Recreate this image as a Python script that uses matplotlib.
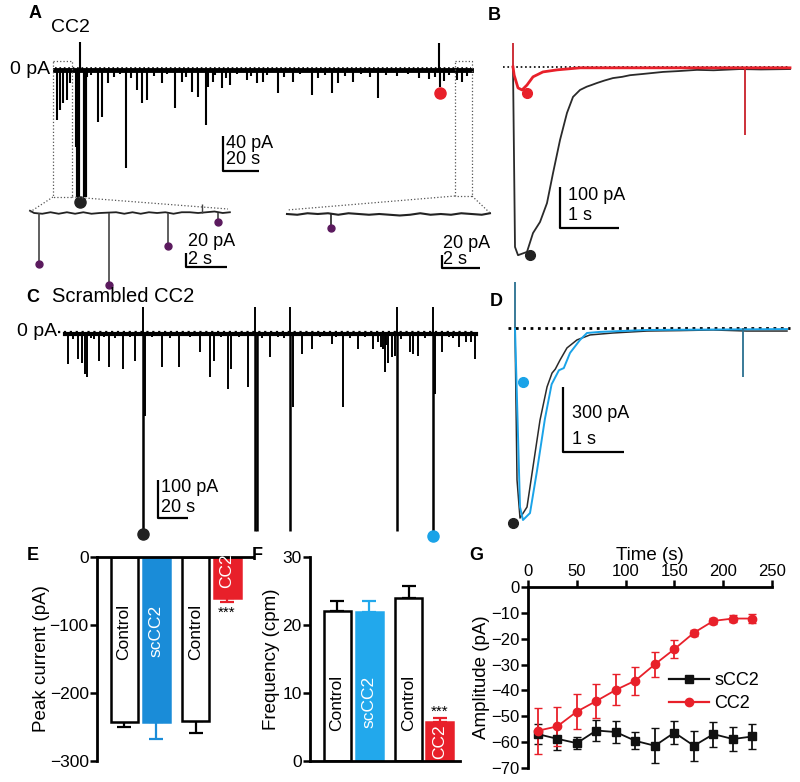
import matplotlib.pyplot as plt
from matplotlib.lines import Line2D

plt.rcParams['font.family'] = ['Liberation Sans', 'DejaVu Sans']
plt.rcParams['axes.unicode_minus'] = True

W, H = 800, 782
RED = '#e8202a'
BLUE_E = '#1a8cd8'
BLUE_F = '#22a8ec'
BLUE_TR = '#1aa3e8'
PURPLE = '#5b1a5e'

# ===========================
# DATA
# ===========================
# A - CC2 recording (s, pA)
a_evt_t = [1.1, 2.8, 4.4, 6.7, 8.3, 11.7, 23.9, 26.1, 29.4, 39.4, 45.6, 48.3, 51.1,
           59.4, 66.7, 70.6, 76.1, 79.4, 83.9, 85.0, 87.8, 92.8, 97.2, 106.7, 112.2,
           115.6, 123.9, 132.2, 142.8, 153.9, 157.2, 165.6, 179.4, 213.9, 223.3, 226.1]
a_evt_amp = [-57, -46, -38, -34, -15, -88, -59, -54, -15, -112, -23, -38, -34,
             -15, -43, -14, -25, -31, -63, -19, -14, -21, -17, -11, -15,
             -14, -26, -14, -29, -26, -15, -14, -32, -19, -11, -14]
a_small_t = [18, 20, 33, 36, 42, 55, 62, 73, 89, 95, 101, 109, 118, 127, 136, 146, 150,
             161, 170, 175, 184, 190, 196, 202, 208, 211, 216, 219, 229]
a_small_amp = [-8, -6, -8, -5, -9, -7, -5, -8, -6, -9, -5, -7, -6, -8, -5, -9, -6,
               -7, -5, -8, -6, -7, -5, -9, -10, -8, -12, -6, -7]
a_big_t = [12.8, 16.7]
a_big_amp = [-145, -145]
a_up_t = [13.9, 213.3]
a_up_amp = [32, 31]
a_dot_black = ([13.9], [-151])
a_dot_red = ([213.9], [-26])

# A insets (s, pA)
li_evt_t = [0.44, 3.85, 6.73, 9.17]
li_evt_amp = [-68, -96, -44, -12]
li_up_t = [8.4]
li_up_amp = [12]
li_base_t = [0, 0.2, 0.6, 1.0, 1.4, 1.8, 2.2, 2.6, 3.0, 3.4, 4.2, 4.6, 5.0, 5.4, 5.8, 6.2,
             6.6, 7.0, 7.4, 7.8, 8.2, 8.6, 9.0, 9.4, 9.75]
li_base_amp = [3, 0, -1, 1, -1, 1, -1, 1, -1, 0, 1, -1, 1, -1, 1, 0, 1, -1, 1, 1, 0, 1,
               2, 0, 1]
ri_evt_t = [2.15]
ri_evt_amp = [-19]
ri_base_t = [0, 0.5, 1.0, 1.5, 2.0, 2.5, 3.0, 3.5, 4.0, 4.5, 5.0, 5.5, 6.0, 6.5, 7.0, 7.5,
             8.0, 8.5, 9.0, 9.5, 9.9]
ri_base_amp = [0, -1, 1, 0, 1, -1, 1, 0, -1, 0, -1, -2, -1, 1, -1, 0, -1, 1, 0, -1, 1]

# B - averaged events, control (black) and CC2 (red) (s, pA)
b_ctrl_t = [0, 0.034, 0.085, 0.237, 0.339, 0.458, 0.576, 0.678, 0.797, 0.915, 1.017,
            1.136, 1.25, 1.33, 1.424, 1.55, 1.695, 1.85, 1.983, 2.2, 2.542, 2.8, 3.119,
            3.4, 3.847, 4.2, 4.695]
b_ctrl_amp = [0, -439, -459, -451, -405, -378, -332, -259, -178, -112, -73,
              -56, -48, -44, -39, -33, -27, -24, -20, -17, -12, -10, -7,
              -8, -5, -6, -5]
b_cc2_t = [0, 0.02, 0.085, 0.153, 0.237, 0.339, 0.508, 0.746, 1.136, 4.695]
b_cc2_amp = [0, -20, -51, -56, -44, -24, -12, -7, -2, -2]
b_cc2_spike_t = [0.0, 3.93]
b_cc2_spike_amp = [58, -166]
b_dot_ctrl = ([0.288], [-459])
b_dot_cc2 = ([0.237], [-63])

# C - Scrambled CC2 recording (s, pA)
c_evt_t = [2.2, 8.9, 11.1, 13.3, 14.9, 22.9, 29.6, 38.4, 46.7, 53.3, 64.9, 76.0, 90.0,
           96.7, 99.3, 108.4, 110.4, 122.2, 136.7, 152.2, 157.8, 164.4, 177.8, 185.6,
           195.6, 205.1, 213.3, 215.6, 217.8, 220.0, 230.0, 232.2, 235.6, 246.7, 251.1,
           262.9, 267.3, 273.3]
c_evt_amp = [-79, -66, -75, -105, -114, -70, -88, -92, -70, -215, -88, -88, -48,
             -114, -70, -145, -92, -140, -61, -193, -53, -39, -26, -193,
             -39, -39, -101, -75, -61, -57, -48, -53, -57, -158, -48,
             -35, -22, -66]
c_small_t = [5, 17, 19, 26, 33, 43, 58, 70, 83, 104, 116, 131, 142, 146, 170, 181, 190,
             200, 209, 211, 212, 214, 224, 240, 256, 259, 271]
c_small_amp = [-12, -10, -14, -8, -10, -9, -8, -10, -7, -9, -8, -10, -8, -11, -9, -8, -10,
               -9, -20, -35, -40, -30, -12, -10, -9, -11, -20]
c_big_t = [51.8, 126.7, 128.2, 150.0, 221.1, 245.1]
c_big_amp = [-526, -518, -518, -518, -518, -532]
c_up_t = [51.8, 127.0, 150.0, 221.1, 245.1]
c_up_amp = [71, 71, 71, 71, 71]
c_dot_black = ([51.8], [-526])
c_dot_blue = ([245.3], [-532])

# D - averaged events, control (black) and scCC2 (blue) (s, pA)
d_ctrl_t = [0, 0.033, 0.082, 0.197, 0.295, 0.41, 0.525, 0.607, 0.66, 0.738, 0.852,
            1.016, 1.23, 1.607, 2.164, 2.7, 3.246, 3.8, 4.459]
d_ctrl_amp = [0, -701, -877, -826, -641, -425, -272, -208, -190, -148, -92,
              -55, -32, -23, -14, -12, -9, -14, -14]
d_sc_t = [0, 0.082, 0.131, 0.246, 0.36, 0.49, 0.6, 0.72, 0.8, 0.902, 1.066, 1.18,
          1.393, 2.164, 4.459]
d_sc_amp = [0, -826, -886, -854, -660, -420, -260, -195, -185, -115, -55, -23,
            -18, -9, -5]
d_spike_t = [0.0, 3.74]
d_spike_amp = [212, -226]
d_dot_ctrl = ([-0.033], [-900])
d_dot_sc = ([0.131], [-249])

# E / F - bar summaries
bar_groups = ['Control', 'scCC2', 'Control', 'CC2']
e_vals = [-243, -243, -241, -61]
e_err = [7, 25, 18, 5]
f_vals = [22.0, 21.9, 24.0, 5.8]
f_err = [1.6, 1.6, 1.7, 0.5]

# G - amplitude over time
g_time = [10, 30, 50, 70, 90, 110, 130, 150, 170, 190, 210, 230]
g_scc2 = [-56.9, -58.7, -60.4, -55.5, -56.1, -59.5, -61.4, -56.3, -61.4, -56.9, -58.8, -57.8]
g_scc2_err = [4.0, 4.5, 2.3, 3.9, 4.4, 3.3, 6.7, 4.4, 5.8, 4.8, 4.5, 4.9]
g_cc2 = [-55.6, -53.9, -48.2, -44.1, -39.8, -36.2, -29.9, -24.0, -17.7, -13.1, -12.2, -12.2]
g_cc2_err = [8.8, 7.4, 6.9, 6.6, 6.0, 5.4, 4.8, 3.5, 1.2, 1.3, 1.3, 1.9]


# ===========================
# HELPERS
# ===========================
fig = plt.figure(figsize=(W / 100, H / 100), dpi=100)


def px_axes(l, t, r, b):
    return fig.add_axes([l / W, 1 - b / H, (r - l) / W, (b - t) / H])


def trace_axes(l, t, r, b, x0, y0, sx, sy):
    # box in pixels; (x0, y0) = pixel of t=0 / 0 pA; sx, sy = pixels per unit
    ax = px_axes(l, t, r, b)
    ax.set_xlim((l - x0) / sx, (r - x0) / sx)
    ax.set_ylim((y0 - b) / sy, (y0 - t) / sy)
    ax.axis('off')
    return ax


ov = fig.add_axes([0, 0, 1, 1], zorder=10)
ov.set_xlim(0, W)
ov.set_ylim(H, 0)
ov.axis('off')
ov.patch.set_alpha(0)


def scalebar(x, ytop, ybot, xright, lab1, lab2, y1, y2, dx=3):
    ov.plot([x, x, xright], [ytop, ybot, ybot], color='k', lw=1.6, solid_capstyle='butt')
    ov.text(x + dx, y1, lab1, fontsize=13, va='center', ha='left')
    ov.text(x + dx, y2, lab2, fontsize=13, va='center', ha='left')


def letter(x, y, s):
    ov.text(x, y, s, fontsize=13, fontweight='bold', va='center', ha='center')


# ===========================
# A
# ===========================
axA = trace_axes(50, 35, 480, 210, 55, 70, 1.8, 0.875)
axA.plot([0, 231], [2, 2], ls=':', color='k', lw=1.2)
axA.plot([0, 231], [0, 0], color='k', lw=3.5)
axA.vlines(a_small_t, 0, a_small_amp, color='k', lw=1.5)
axA.vlines(a_evt_t, 0, a_evt_amp, color='k', lw=1.5)
axA.vlines(a_big_t, 0, a_big_amp, color='k', lw=3)
axA.vlines(a_up_t, 0, a_up_amp, color='k', lw=1.5)
axA.plot(*a_dot_black, 'o', color='#222222', ms=8, clip_on=False)
axA.plot(*a_dot_red, 'o', color=RED, ms=8, clip_on=False)

axLi = trace_axes(25, 195, 235, 295, 30, 213, 20.5, 0.75)
axLi.plot(li_base_t, li_base_amp, color='#222222', lw=1.3)
axLi.vlines(li_evt_t, 0, li_evt_amp, color='#444444', lw=1.2)
axLi.vlines(li_up_t, 0, li_up_amp, color='#444444', lw=1)
axLi.plot(li_evt_t, li_evt_amp, 'o', color=PURPLE, ms=5, clip_on=False)

axRi = trace_axes(282, 195, 495, 240, 287, 214, 20.5, 0.75)
axRi.plot(ri_base_t, ri_base_amp, color='#222222', lw=1.5)
axRi.vlines(ri_evt_t, 0, ri_evt_amp, color='#222222', lw=1.2)
axRi.plot(ri_evt_t, ri_evt_amp, 'o', color=PURPLE, ms=5, clip_on=False)

# zoom boxes
dot = dict(color='#555555', lw=0.9, ls=':')
ov.plot([53, 72, 72, 53, 53], [61, 61, 197, 197, 61], **dot)
ov.plot([455, 472, 472, 455, 455], [61, 61, 196, 196, 61], **dot)
ov.plot([53, 30], [197, 212], **dot)
ov.plot([72, 228], [197, 209], **dot)
ov.plot([455, 287], [196, 210], **dot)
ov.plot([472, 490], [196, 213], **dot)

letter(35, 14, 'A')
ov.text(70, 27, 'CC2', fontsize=14, ha='center', va='center')
ov.text(50, 70, '0 pA', fontsize=14, ha='right', va='center')
scalebar(223, 136, 171, 259, '40 pA', '20 s', 144, 160)
scalebar(186, 253, 267, 227, '20 pA', '2 s', 241, 259, dx=2)
scalebar(442, 255, 268, 480, '20 pA', '2 s', 243, 260, dx=1)

# ===========================
# B
# ===========================
axB = trace_axes(500, 35, 800, 265, 513, 67, 59, 0.41)
axB.plot([-0.17, 4.66], [0, 0], ls=':', color='k', lw=1.2)
axB.plot(b_ctrl_t, b_ctrl_amp, color='#2a2a2a', lw=1.3)
axB.vlines(b_cc2_spike_t, 0, b_cc2_spike_amp, color='#c8202a', lw=1.3)
axB.plot(b_cc2_t, b_cc2_amp, color=RED, lw=2)
axB.plot(*b_dot_ctrl, 'o', color='#222222', ms=7, clip_on=False)
axB.plot(*b_dot_cc2, 'o', color=RED, ms=7, clip_on=False)
letter(494, 15, 'B')
scalebar(560, 187, 228, 619, '100 pA', '1 s', 195, 215, dx=8)

# ===========================
# C
# ===========================
axC = trace_axes(55, 300, 480, 545, 65, 334, 1.5, 0.38)
axC.plot([-4.7, 273], [5, 5], ls=':', color='k', lw=1.6)
axC.plot([0, 274], [0, 0], color='k', lw=3)
axC.vlines(c_small_t, 0, c_small_amp, color='k', lw=1.4)
axC.vlines(c_evt_t, 0, c_evt_amp, color='k', lw=1.4)
axC.vlines(c_big_t, 0, c_big_amp, color='k', lw=1.8)
axC.vlines(c_up_t, 0, c_up_amp, color='k', lw=1.4)
axC.plot(*c_dot_black, 'o', color='#222222', ms=8, clip_on=False)
axC.plot(*c_dot_blue, 'o', color=BLUE_TR, ms=8, clip_on=False)
letter(33, 297, 'C')
ov.text(52, 297, 'Scrambled CC2', fontsize=14.5, ha='left', va='center')
ov.text(57, 332, '0 pA', fontsize=14, ha='right', va='center')
scalebar(158, 480, 518, 188, '100 pA', '20 s', 488, 507)

# ===========================
# D
# ===========================
axD = trace_axes(500, 275, 800, 530, 515, 328, 61, 0.2167)
axD.plot([-0.11, 4.5], [0, 0], ls=':', color='k', lw=2)
axD.plot(d_ctrl_t, d_ctrl_amp, color='#2a2a2a', lw=1.1)
axD.plot(d_sc_t, d_sc_amp, color=BLUE_TR, lw=1.4)
axD.vlines(d_spike_t, 0, d_spike_amp, color='#2a7090', lw=1.3)
axD.plot(*d_dot_ctrl, 'o', color='#222222', ms=7, clip_on=False)
axD.plot(*d_dot_sc, 'o', color=BLUE_TR, ms=7, clip_on=False)
letter(496, 301, 'D')
scalebar(563, 387, 452, 624, '300 pA', '1 s', 414, 439, dx=9)

# ===========================
# E and F - bar charts
# ===========================
bar_pos = [27, 59, 98.5, 130]
bar_w = 27


def bar_panel(ax, vals, errs, fills, edges, errcols, labcols, lab_y, down):
    for x, v, e, fc, ec, erc in zip(bar_pos, vals, errs, fills, edges, errcols):
        ax.bar(x, v, width=bar_w, color=fc, edgecolor=ec, linewidth=1.8, zorder=2)
        yerr = [[e], [0]] if down else [[0], [e]]
        ax.errorbar(x, v, yerr=yerr, fmt='none', ecolor=erc, elinewidth=1.6,
                    capsize=5, capthick=1.6, zorder=1)
    for x, g, c, y in zip(bar_pos, bar_groups, labcols, lab_y):
        ax.text(x, y, g, rotation=90, ha='center', va='center', fontsize=12.5, color=c)


axE = px_axes(97, 557, 253, 761)
axE.set_xlim(0, 156)
axE.set_ylim(-300, 0)
bar_panel(axE, e_vals, e_err,
          ['white', BLUE_E, 'white', RED], ['k', BLUE_E, 'k', RED],
          ['k', BLUE_E, 'k', RED], ['k', 'white', 'k', 'white'],
          [-110, -108, -110, -20], down=True)
axE.text(bar_pos[3], -82, '***', ha='center', va='center', fontsize=11)
axE.spines['bottom'].set_visible(False)
axE.spines['right'].set_visible(False)
for s in ['left', 'top']:
    axE.spines[s].set_linewidth(2)
axE.set_xticks([])
axE.set_yticks([-300, -200, -100, 0])
axE.set_yticklabels(['\u2212300', '\u2212200', '\u2212100', '0'])
axE.tick_params(axis='y', labelsize=12.5, width=1.8, length=5, pad=1)
axE.set_ylabel('Peak current (pA)', fontsize=13.5, labelpad=0)
letter(33, 555, 'E')

axF = px_axes(310, 557, 460, 761)
axF.set_xlim(0, 150)
axF.set_ylim(0, 30)
bar_panel(axF, f_vals, f_err,
          ['white', BLUE_F, 'white', RED], ['k', BLUE_F, 'k', RED],
          ['k', BLUE_F, 'k', RED], ['k', 'white', 'k', 'white'],
          [8.5, 8.7, 8.5, 2.8], down=False)
axF.text(bar_pos[3], 7.2, '***', ha='center', va='center', fontsize=11)
axF.spines['top'].set_visible(False)
axF.spines['right'].set_visible(False)
for s in ['left', 'bottom']:
    axF.spines[s].set_linewidth(2)
axF.set_xticks([])
axF.set_yticks([0, 10, 20, 30])
axF.tick_params(axis='y', labelsize=12.5, width=1.8, length=5, pad=1)
axF.set_ylabel('Frequency (cpm)', fontsize=13.5, labelpad=2)
letter(257, 555, 'F')

# ===========================
# G
# ===========================
axG = px_axes(528, 587, 772, 768)
axG.errorbar(g_time, g_scc2, yerr=g_scc2_err, color='#111111', marker='s', ms=6,
             lw=1.3, elinewidth=1.3, capsize=3, clip_on=False)
axG.errorbar(g_time, g_cc2, yerr=g_cc2_err, color=RED, marker='o', ms=6,
             lw=1.3, elinewidth=1.3, capsize=3, clip_on=False)
axG.set_xlim(0, 250)
axG.set_ylim(-70, 0)
axG.xaxis.tick_top()
axG.xaxis.set_label_position('top')
axG.spines['bottom'].set_visible(False)
axG.spines['right'].set_visible(False)
for s in ['left', 'top']:
    axG.spines[s].set_linewidth(2)
axG.set_xticks([0, 50, 100, 150, 200, 250])
axG.set_yticks([-70, -60, -50, -40, -30, -20, -10, 0])
axG.set_yticklabels(['\u221270', '\u221260', '\u221250', '\u221240', '\u221230',
                     '\u221220', '\u221210', '0'])
axG.tick_params(labelsize=12, width=1.8, length=5, pad=1)
axG.set_xlabel('Time (s)', fontsize=13.5, labelpad=3)
axG.set_ylabel('Amplitude (pA)', fontsize=13.5, labelpad=1)
handles = [Line2D([], [], color='#111111', marker='s', ms=6, lw=1.6),
           Line2D([], [], color=RED, marker='o', ms=6, lw=1.6)]
axG.legend(handles, ['sCC2', 'CC2'], loc='upper left', bbox_to_anchor=(0.55, 0.57),
           frameon=False, fontsize=13, handlelength=2.2, labelspacing=0.35,
           handletextpad=0.3, borderaxespad=0)
letter(476, 555, 'G')

fig.savefig('out.png', dpi=100)
